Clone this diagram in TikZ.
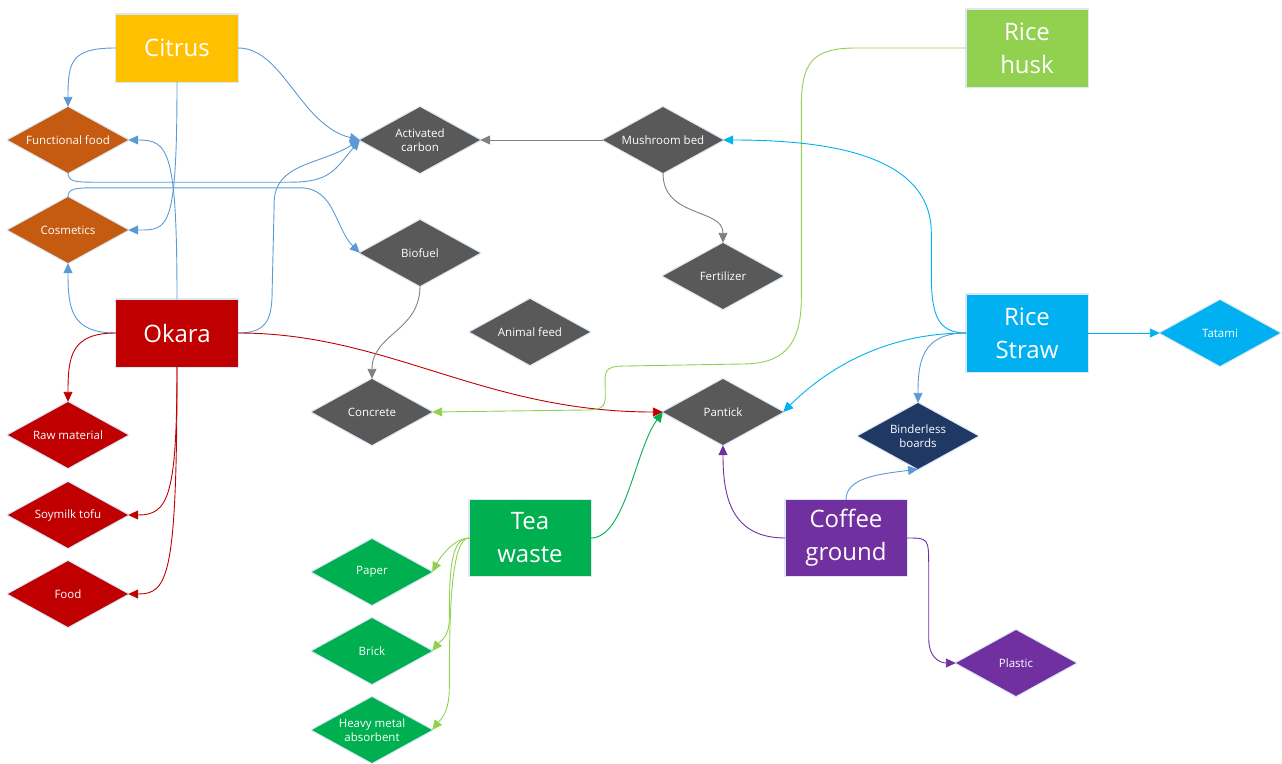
\documentclass[tikz,border=0pt]{standalone}
\usepackage{fontspec}
\setmainfont{Open Sans}
\usetikzlibrary{shapes.geometric,arrows.meta}

\definecolor{citrusc}{HTML}{FFC000}
\definecolor{brownc}{HTML}{C55A11}
\definecolor{redc}{HTML}{C00000}
\definecolor{greyd}{HTML}{595959}
\definecolor{huskc}{HTML}{92D050}
\definecolor{strawc}{HTML}{00B0F0}
\definecolor{navyc}{HTML}{203864}
\definecolor{teac}{HTML}{00B050}
\definecolor{coffeec}{HTML}{7030A0}
\definecolor{bluec}{HTML}{5B9BD5}
\definecolor{arrgrey}{HTML}{808080}
\definecolor{haloc}{HTML}{DCE8F5}

\tikzset{
  srcbox/.style={rectangle, fill=#1, text=white, align=center, inner sep=0pt,
    font=\fontsize{24}{33}\selectfont,
    preaction={draw=haloc, line width=2.5pt}},
  prod/.style={diamond, fill=#1, text=white, align=center, aspect=1.8,
    inner sep=0pt, minimum width=120pt, minimum height=66pt,
    font=\fontsize{11.5}{14}\selectfont,
    preaction={draw=haloc, line width=2.5pt, line join=round}},
  link/.style={draw=#1, line width=0.9pt, -{Triangle[length=10pt,width=9pt]}}
}

\begin{document}
\begin{tikzpicture}[x=1pt,y=-1pt]
\useasboundingbox (0,0) rectangle (1282,763);

% raw materials
\node[srcbox=citrusc, minimum width=122pt, minimum height=67pt] (citrus) at (177,48) {Citrus};
\node[srcbox=redc, minimum width=122pt, minimum height=67pt] (okara) at (177,333) {Okara};
\node[srcbox=huskc, minimum width=121pt, minimum height=77pt] (husk) at (1027,48) {Rice\\husk};
\node[srcbox=strawc, minimum width=121pt, minimum height=77pt] (straw) at (1027,333) {Rice\\Straw};
\node[srcbox=teac, minimum width=121pt, minimum height=76pt] (tea) at (530,538) {Tea\\waste};
\node[srcbox=coffeec, minimum width=121pt, minimum height=76pt] (coffee) at (846,538) {Coffee\\ground};

% products
\node[prod=brownc] (ff) at (68,140) {Functional food};
\node[prod=brownc] (cos) at (68,230) {Cosmetics};
\node[prod=redc] (raw) at (68,435) {Raw material};
\node[prod=redc] (soy) at (68,515) {Soymilk tofu};
\node[prod=redc] (food) at (68,594) {Food};
\node[prod=greyd] (ac) at (420,140) {Activated\\carbon};
\node[prod=greyd] (bio) at (420,253) {Biofuel};
\node[prod=greyd] (feed) at (530,332) {Animal feed};
\node[prod=greyd] (con) at (372,412) {Concrete};
\node[prod=greyd] (mush) at (663,140) {Mushroom bed};
\node[prod=greyd] (fert) at (723,276) {Fertilizer};
\node[prod=greyd] (pan) at (723,412) {Pantick};
\node[prod=strawc] (tatami) at (1220,333) {Tatami};
\node[prod=navyc] (bind) at (918,436) {Binderless\\boards};
\node[prod=teac] (paper) at (372,572) {Paper};
\node[prod=teac] (brick) at (372,651) {Brick};
\node[prod=teac] (heavy) at (372,730) {Heavy metal\\absorbent};
\node[prod=coffeec] (plastic) at (1016,663) {Plastic};

% citrus
\draw[link=bluec] (citrus.west) .. controls +(-45,0) and +(0,-45) .. (ff.north);
\draw[link=bluec] (citrus.south) .. controls +(0,150) and +(40,0) .. (cos.east);
\draw[link=bluec] (citrus.east) .. controls +(45,0) and +(-60,-15) .. (ac.west);

% okara
\draw[link=bluec] (okara.north) .. controls +(0,-150) and +(40,0) .. (ff.east);
\draw[link=bluec] (okara.west) .. controls +(-45,0) and +(0,45) .. (cos.south);
\draw[link=bluec] (okara.east) .. controls +(30,0) and +(0,30) .. ++(34,-45) -- ++(2,-85)
  .. controls +(0,-40) and +(-40,25) .. (ac.west);
\draw[link=redc] (okara.west) .. controls +(-45,0) and +(0,-45) .. (raw.north);
\draw[link=redc] (okara.south) .. controls +(0,130) and +(40,0) .. (soy.east);
\draw[link=redc] (okara.south) .. controls +(0,210) and +(40,0) .. (food.east);
\draw[link=redc] (okara.east) .. controls +(150,0) and +(-180,0) .. (pan.west);

% functional food and cosmetics onwards
\draw[link=bluec] (ff.south) .. controls +(0,8) and +(-18,0) .. ++(25,9) -- ++(197,0)
  .. controls +(40,0) and +(-25,30) .. (ac.west);
\draw[link=bluec] (cos.north) .. controls +(0,-8) and +(-18,0) .. ++(25,-9) -- ++(207,0)
  .. controls +(35,0) and +(-25,-25) .. (bio.west);

% grey chain
\draw[link=arrgrey] (mush.west) -- (ac.east);
\draw[link=arrgrey] (mush.south) .. controls +(0,45) and +(0,-35) .. (fert.north);
\draw[link=arrgrey] (bio.south) .. controls +(0,45) and +(0,-45) .. (con.north);

% rice husk
\draw[link=huskc] (husk.west) -- ++(-110,0)
  .. controls +(-45,0) and +(0,-45) .. ++(-55,60) -- ++(0,190)
  .. controls +(0,50) and +(40,0) .. ++(-60,66) -- ++(-115,2)
  .. controls +(-25,0) and +(0,-25) .. ++(-21,30)
  .. controls +(0,12) and +(15,0) .. ++(-20,14) -- (con.east);

% tea waste
\draw[link=huskc] (tea.west) .. controls +(-15,0) and +(8,-15) .. (paper.east);
\draw[link=huskc] (tea.west) .. controls +(-18,0) and +(0,-50) .. ++(-20,80)
  .. controls +(0,20) and +(8,-10) .. (brick.east);
\draw[link=huskc] (tea.west) .. controls +(-18,0) and +(0,-80) .. ++(-20,150)
  .. controls +(0,25) and +(8,-10) .. (heavy.east);
\draw[link=teac] (tea.east) .. controls +(35,0) and +(-28,38) .. (pan.west);

% rice straw
\draw[link=strawc] (straw.west) .. controls +(-30,0) and +(0,40) .. ++(-35,-60) -- ++(0,-40)
  .. controls +(0,-80) and +(100,0) .. (mush.east);
\draw[link=strawc] (straw.west) .. controls +(-90,0) and +(35,-35) .. (pan.east);
\draw[link=bluec] (straw.west) .. controls +(-45,0) and +(0,-40) .. (bind.north);
\draw[link=strawc] (straw.east) -- (tatami.west);

% coffee ground
\draw[link=coffeec] (coffee.west) .. controls +(-55,0) and +(0,50) .. (pan.south);
\draw[link=coffeec] (coffee.east) .. controls +(22,0) and +(0,-30) .. ++(22,30) -- ++(0,70)
  .. controls +(0,25) and +(-10,0) .. (plastic.west);
\draw[link=bluec] (coffee.north) .. controls +(0,-22) and +(-40,5) .. (bind.south);
\end{tikzpicture}
\end{document}
